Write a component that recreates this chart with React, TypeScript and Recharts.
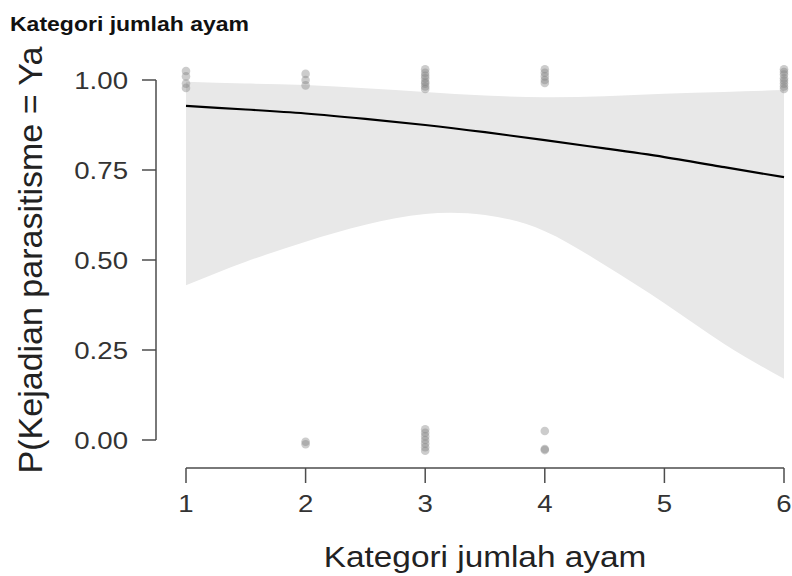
import { ComposedChart, Area, Line, Scatter, XAxis, YAxis } from "recharts";

// fitted curve + 95% band
const fitX = [1, 1.5, 2, 2.5, 3, 3.5, 4, 4.5, 5, 5.5, 6];
const fitP = [0.928, 0.918, 0.907, 0.892, 0.875, 0.855, 0.833, 0.81, 0.786, 0.758, 0.73];
const lowerCI = [0.43, 0.495, 0.551, 0.598, 0.628, 0.625, 0.58, 0.486, 0.38, 0.267, 0.17];
const upperCI = [0.995, 0.99, 0.986, 0.977, 0.967, 0.957, 0.952, 0.955, 0.962, 0.967, 0.972];

// observed (jittered) responses
const obsX = [
  1, 1, 1, 1,
  2, 2, 2,
  3, 3, 3, 3, 3, 3, 3, 3,
  4, 4, 4, 4, 4,
  6, 6, 6, 6, 6, 6, 6, 6,
  2, 2,
  3, 3, 3, 3, 3, 3, 3,
  4, 4, 4,
];
const obsY = [
  1.025, 1.01, 0.99, 0.978,
  1.017, 1.0, 0.985,
  1.03, 1.02, 1.012, 1.005, 0.995, 0.99, 0.982, 0.975,
  1.03, 1.02, 1.01, 1.0, 0.992,
  1.03, 1.022, 1.015, 1.005, 0.998, 0.99, 0.982, 0.975,
  -0.005, -0.012,
  0.03, 0.02, 0.01, 0.0, -0.01, -0.02, -0.03,
  0.025, -0.025, -0.028,
];

const xTicks = [1, 2, 3, 4, 5, 6];
const yTicks = [0, 0.25, 0.5, 0.75, 1];

const title = "Kategori jumlah ayam";
const xLabel = "Kategori jumlah ayam";
const yLabel = "P(Kejadian parasitisme = Ya";

const fitData = fitX.map((x, i) => ({ x, fit: fitP[i], band: [lowerCI[i], upperCI[i]] }));
const obsData = obsX.map((x, i) => ({ x, y: obsY[i] }));

const W = 792;
const H = 576;
const AXIS_COL = "#4d4d4d";
const TEXT_COL = "#333333";
const STRETCH = 1.15;
const FONT = "Arial, 'Liberation Sans', sans-serif";
// y range shown: 22px above 1.00 and 28px below 0.00 (plot is 360px per unit)
const Y_DOMAIN = [-28 / 360, 1 + 22 / 360];

const XTick = (props: any) => {
  const { x, y, payload } = props;
  return (
    <g transform={`translate(${x},${y}) scale(${STRETCH},1)`}>
      <text textAnchor="middle" dy="0.71em" fill={TEXT_COL} fontSize={24} fontFamily={FONT}>
        {payload.value}
      </text>
    </g>
  );
};

const YTick = (props: any) => {
  const { x, y, payload } = props;
  return (
    <g transform={`translate(${x},${y}) scale(${STRETCH},1)`}>
      <text textAnchor="end" dy="0.36em" fill={TEXT_COL} fontSize={24} fontFamily={FONT}>
        {payload.value.toFixed(2)}
      </text>
    </g>
  );
};

const Dot = (props: any) => (
  <circle cx={props.cx} cy={props.cy} r={4.3} fill="#808080" fillOpacity={0.4} />
);

export default function App() {
  return (
    <div style={{ position: "absolute", left: 0, top: 0, width: W, height: H, background: "#fff" }}>
      <ComposedChart width={W} height={H} margin={{ top: 58, right: 2, bottom: 0, left: 0 }}>
        <XAxis
          dataKey="x"
          type="number"
          domain={[1, 6]}
          ticks={xTicks}
          padding={{ left: 30, right: 6 }}
          axisLine={false}
          tickLine={{ stroke: AXIS_COL, strokeWidth: 1.5 }}
          tickSize={15}
          tickMargin={12}
          tick={<XTick />}
          height={108}
          allowDuplicatedCategory={false}
        />
        <YAxis
          type="number"
          domain={Y_DOMAIN}
          ticks={yTicks}
          axisLine={false}
          tickLine={{ stroke: AXIS_COL, strokeWidth: 1.5 }}
          tickSize={14}
          tickMargin={14}
          tick={<YTick />}
          width={156}
        />
        <Area
          data={fitData}
          dataKey="band"
          type="natural"
          fill="#e8e8e8"
          fillOpacity={1}
          stroke="none"
          isAnimationActive={false}
        />
        <Line
          data={fitData}
          dataKey="fit"
          type="natural"
          stroke="#000"
          strokeWidth={2.2}
          dot={false}
          isAnimationActive={false}
        />
        <Scatter data={obsData} dataKey="y" shape={<Dot />} isAnimationActive={false} />
      </ComposedChart>

      {/* axis lines (offset R-style) and titles */}
      <svg
        width={W}
        height={H}
        style={{ position: "absolute", left: 0, top: 0, pointerEvents: "none" }}
      >
        <line x1={186} x2={784} y1={468} y2={468} stroke={AXIS_COL} strokeWidth={1.5} />
        <line x1={156} x2={156} y1={80} y2={440} stroke={AXIS_COL} strokeWidth={1.5} />
        <g transform={`translate(10,31) scale(${STRETCH},1)`}>
          <text fontSize={20} fontWeight="bold" fontFamily={FONT} fill="#111">
            {title}
          </text>
        </g>
        <g transform={`translate(485,567) scale(${STRETCH},1)`}>
          <text textAnchor="middle" fontSize={29} fontFamily={FONT} fill="#222">
            {xLabel}
          </text>
        </g>
        <g transform="translate(42,260) rotate(-90)">
          <text textAnchor="middle" fontSize={34} fontFamily={FONT} fill="#222">
            {yLabel}
          </text>
        </g>
      </svg>
    </div>
  );
}
